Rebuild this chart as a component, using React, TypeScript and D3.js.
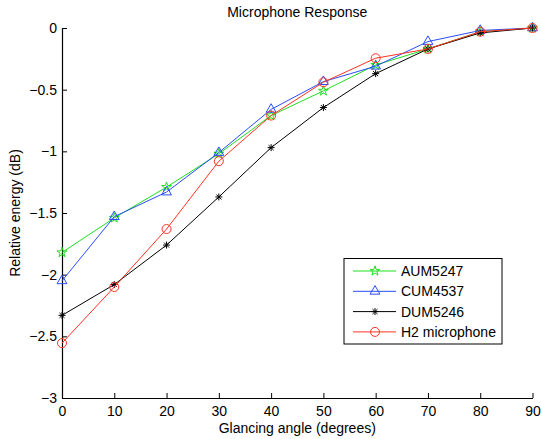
import React, { useRef, useEffect } from 'react';
import * as d3 from 'd3';

// glancing angle in degrees
const angles = [0, 10, 20, 30, 40, 50, 60, 70, 80, 90];

// relative energy (dB)
const aum5247 = [-1.82, -1.54, -1.29, -1.02, -0.71, -0.51, -0.30, -0.17, -0.03, 0];
const cum4537 = [-2.05, -1.53, -1.33, -1.01, -0.66, -0.435, -0.31, -0.11, -0.02, 0];
const dum5246 = [-2.33, -2.08, -1.76, -1.37, -0.97, -0.645, -0.37, -0.17, -0.04, 0];
const h2Mic = [-2.555, -2.10, -1.63, -1.08, -0.71, -0.44, -0.245, -0.17, -0.03, 0];

const xTicks = [0, 10, 20, 30, 40, 50, 60, 70, 80, 90];
const yTicks = [0, -0.5, -1, -1.5, -2, -2.5, -3];

const seriesNames = ['AUM5247', 'CUM4537', 'DUM5246', 'H2 microphone'];
const seriesValues = [aum5247, cum4537, dum5246, h2Mic];
const seriesColors = ['#1ee01e', '#2a4cff', '#000000', '#ff3322'];
const seriesMarkers = ['star', 'triangle', 'asterisk', 'circle'];

const W = 541;
const H = 439;
const FONT = 'Liberation Sans, Arial, Helvetica, sans-serif';
const FS = 14;

const fmt = (v: number) => (v === 0 ? '0' : String(v).replace('-', '\u2212'));

function drawMarker(g: any, kind: string, x: number, y: number, color: string) {
  if (kind === 'star') {
    g.append('path')
      .attr('d', d3.symbol().type(d3.symbolStar).size(30)())
      .attr('transform', `translate(${x},${y})`)
      .attr('fill', 'none')
      .attr('stroke', color)
      .attr('stroke-width', 1);
  } else if (kind === 'triangle') {
    g.append('path')
      .attr('d', d3.symbol().type(d3.symbolTriangle).size(42)())
      .attr('transform', `translate(${x},${y})`)
      .attr('fill', 'none')
      .attr('stroke', color)
      .attr('stroke-width', 1);
  } else if (kind === 'circle') {
    g.append('circle')
      .attr('cx', x)
      .attr('cy', y)
      .attr('r', 4.5)
      .attr('fill', 'none')
      .attr('stroke', color)
      .attr('stroke-width', 1);
  } else {
    // asterisk: plus + cross
    const r = 3.5;
    const d = r * 0.72;
    const p = `M${x - r},${y}L${x + r},${y}M${x},${y - r}L${x},${y + r}` +
      `M${x - d},${y - d}L${x + d},${y + d}M${x - d},${y + d}L${x + d},${y - d}`;
    g.append('path').attr('d', p).attr('stroke', color).attr('stroke-width', 1).attr('fill', 'none');
  }
}

const App = () => {
  const ref = useRef<SVGSVGElement>(null);

  useEffect(() => {
    const svg = d3.select(ref.current);
    svg.selectAll('*').remove();

    const left = 62, right = 532.5, top = 28, bottom = 398;

    const x = d3.scaleLinear().domain([0, 90]).range([left, right]);
    const y = d3.scaleLinear().domain([-3, 0]).range([bottom, top]);

    svg.append('rect').attr('width', W).attr('height', H).attr('fill', '#fff');

    // title
    svg.append('text')
      .attr('x', (left + right) / 2)
      .attr('y', 16.5)
      .attr('text-anchor', 'middle')
      .attr('font-family', FONT)
      .attr('font-size', FS)
      .text('Microphone Response');

    // axes (ticks inside, no box)
    const xAxis = svg.append('g')
      .attr('transform', `translate(0,${bottom})`)
      .call(d3.axisBottom(x).tickValues(xTicks).tickSizeInner(-5).tickSizeOuter(0).tickPadding(8).tickFormat((d: any) => fmt(d)));
    const yAxis = svg.append('g')
      .attr('transform', `translate(${left},0)`)
      .call(d3.axisLeft(y).tickValues(yTicks).tickSizeInner(-5).tickSizeOuter(0).tickPadding(5).tickFormat((d: any) => fmt(d)));

    [xAxis, yAxis].forEach(a => {
      a.select('.domain').attr('stroke', '#000').attr('stroke-width', 1.2);
      a.selectAll('.tick line').attr('stroke', '#000');
      a.selectAll('.tick text').attr('font-family', FONT).attr('font-size', FS).attr('fill', '#000');
    });

    svg.append('text')
      .attr('x', (left + right) / 2)
      .attr('y', 433)
      .attr('text-anchor', 'middle')
      .attr('font-family', FONT)
      .attr('font-size', FS)
      .text('Glancing angle (degrees)');

    svg.append('text')
      .attr('transform', `translate(20,${(top + bottom) / 2}) rotate(-90)`)
      .attr('text-anchor', 'middle')
      .attr('font-family', FONT)
      .attr('font-size', FS)
      .text('Relative energy (dB)');

    // series
    const line = d3.line<number>().x((_, i) => x(angles[i])).y(d => y(d));
    seriesValues.forEach((vals, si) => {
      const g = svg.append('g');
      g.append('path')
        .attr('d', line(vals))
        .attr('fill', 'none')
        .attr('stroke', seriesColors[si])
        .attr('stroke-width', 1);
      vals.forEach((v, i) => drawMarker(g, seriesMarkers[si], x(angles[i]), y(v), seriesColors[si]));
    });

    // legend
    const lg = svg.append('g');
    lg.append('rect')
      .attr('x', 344).attr('y', 258.5)
      .attr('width', 158).attr('height', 85.5)
      .attr('fill', '#fff').attr('stroke', '#000').attr('stroke-width', 1);
    seriesNames.forEach((name, i) => {
      const ly = 271 + i * 20.3;
      lg.append('line')
        .attr('x1', 353).attr('x2', 396)
        .attr('y1', ly).attr('y2', ly)
        .attr('stroke', seriesColors[i]).attr('stroke-width', 1);
      drawMarker(lg, seriesMarkers[i], 375, ly, seriesColors[i]);
      lg.append('text')
        .attr('x', 401).attr('y', ly + 5)
        .attr('font-family', FONT)
        .attr('font-size', FS)
        .text(name);
    });
  }, []);

  return (
    <svg ref={ref} width={W} height={H} style={{ position: 'absolute', left: 0, top: 0 }} />
  );
};

export default App;
